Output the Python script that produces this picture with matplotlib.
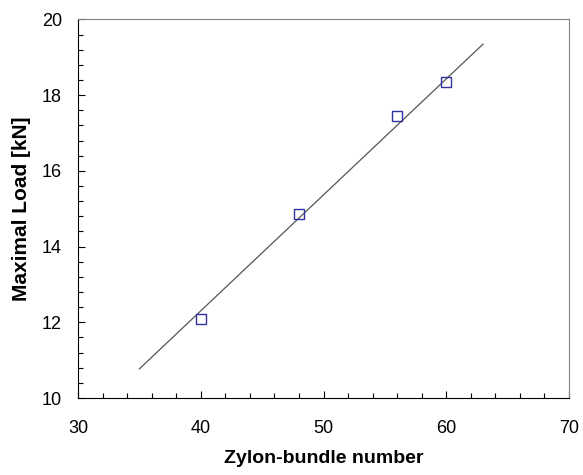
import matplotlib
matplotlib.use("Agg")
import matplotlib.pyplot as plt
from matplotlib.ticker import MultipleLocator

plt.rcParams["font.family"] = ["Liberation Sans", "DejaVu Sans"]

# measured points
bundles = [40, 48, 56, 60]
max_load = [12.1, 14.85, 17.45, 18.35]
# regression line as drawn (end points)
fit_x = [35, 63]
fit_y = [10.77, 19.35]

fig = plt.figure(figsize=(5.83, 4.75), dpi=100)
ax = fig.add_axes([0.1338, 0.1621, 0.976 - 0.1338, 0.959 - 0.1621])

ax.plot(fit_x, fit_y, color="#555555", lw=0.9)
ax.plot(bundles, max_load, ls="none", marker="s", ms=6.5, mfc="none",
        mec="#3030a0", mew=1.0)

ax.set_xlim(30, 70)
ax.set_ylim(10, 20)
ax.xaxis.set_major_locator(MultipleLocator(10))
ax.xaxis.set_minor_locator(MultipleLocator(2))
ax.yaxis.set_major_locator(MultipleLocator(2))
ax.yaxis.set_minor_locator(MultipleLocator(0.4))
ax.tick_params(which="both", direction="in", top=False, right=False,
               labelsize=13, color="black")
ax.tick_params(which="major", length=5, width=0.8)
ax.tick_params(which="minor", length=3.5, width=0.8)
ax.tick_params(axis="x", which="both", pad=15.5)
ax.tick_params(axis="y", which="both", pad=11.5)

for side in ("top", "right"):
    ax.spines[side].set_color("#808080")
for side in ("left", "bottom"):
    ax.spines[side].set_color("black")
for sp in ax.spines.values():
    sp.set_linewidth(0.8)

ax.set_xlabel("Zylon-bundle number", fontsize=14, fontweight="bold", labelpad=10)
ax.set_ylabel("Maximal Load [kN]", fontsize=15, fontweight="bold", labelpad=8)

fig.savefig("out.png", dpi=100)
